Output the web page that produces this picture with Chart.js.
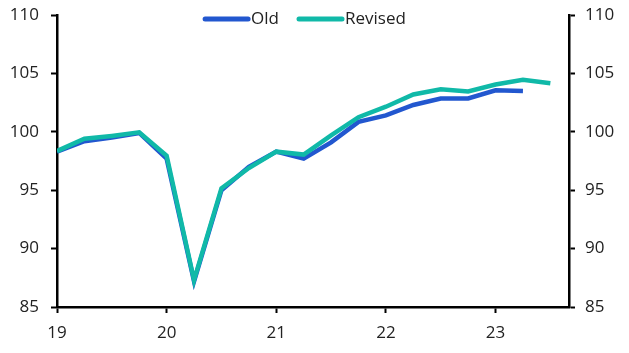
<!DOCTYPE html>
<html>
<head>
<meta charset="utf-8">
<script src="https://cdn.jsdelivr.net/npm/chart.js@4/dist/chart.umd.min.js"></script>
<style>
html,body{margin:0;padding:0;background:#fff;}
#wrap{width:629px;height:353px;position:relative;}
</style>
</head>
<body>
<div id="wrap"><canvas id="c" width="629" height="353"></canvas></div>
<script>
// Data (quarterly index)
const quarters = ['2019Q1','2019Q2','2019Q3','2019Q4','2020Q1','2020Q2','2020Q3','2020Q4',
  '2021Q1','2021Q2','2021Q3','2021Q4','2022Q1','2022Q2','2022Q3','2022Q4','2023Q1','2023Q2','2023Q3'];
const oldSeries = [98.3, 99.2, 99.5, 99.9, 97.7, 87.2, 95.0, 97.0, 98.3, 97.7, 99.1, 100.85, 101.4, 102.3, 102.85, 102.85, 103.55, 103.5];
const revisedSeries = [98.35, 99.4, 99.65, 99.95, 97.95, 87.3, 95.15, 96.9, 98.3, 98.05, 99.7, 101.25, 102.15, 103.2, 103.65, 103.45, 104.05, 104.45, 104.15];
const xTickLabels = ['19','20','21','22','23'];
const seriesNames = ['Old','Revised'];
const seriesColors = ['#2257CF','#10B9A8'];

function qToX(q){ const y = parseInt(q.slice(0,4),10); const n = parseInt(q.slice(5),10); return y + (n-1)/4; }
function pts(vals){ return vals.map((v,i)=>({x:qToX(quarters[i]), y:v})); }

const FONT = '"Open Sans", "Noto Sans", sans-serif';
Chart.defaults.font.family = FONT;
Chart.defaults.font.size = 17;
Chart.defaults.color = '#222';

const legendPlugin = {
  id:'customLegend',
  afterDraw(chart){
    const ctx = chart.ctx;
    ctx.save();
    ctx.font = '17px ' + FONT;
    ctx.textBaseline = 'middle';
    const items = chart.data.datasets.map(d=>({label:d.label,color:d.borderColor}));
    const lineW = 47, gap = 1, sep = 18;
    let total = 0;
    items.forEach((it,i)=>{ total += lineW + gap + ctx.measureText(it.label).width + (i<items.length-1?sep:0); });
    let x = (chart.width - total)/2 - 10;
    const y = 19;
    items.forEach(it=>{
      ctx.strokeStyle = it.color; ctx.lineWidth = 5; ctx.lineCap='round';
      ctx.beginPath(); ctx.moveTo(x+2,y); ctx.lineTo(x+lineW-2,y); ctx.stroke();
      x += lineW + gap;
      ctx.fillStyle = '#222';
      ctx.fillText(it.label, x, y);
      x += ctx.measureText(it.label).width + sep;
    });
    ctx.restore();
  }
};

const yCommon = {
  type:'linear', min:85, max:110,
  ticks:{stepSize:5, color:'#222', font:{size:17}},
  grid:{display:true, drawOnChartArea:false, drawTicks:true, tickLength:6, tickColor:'#000', tickWidth:2},
  border:{display:true, color:'#000', width:2.5}
};
function fixY(w){ return function(a){ a.width = w; a.paddingTop = 0; a.paddingBottom = 0; }; }

new Chart(document.getElementById('c'), {
  type:'line',
  data:{
    datasets:[
      {label:seriesNames[0], data:pts(oldSeries), borderColor:seriesColors[0], backgroundColor:seriesColors[0], borderWidth:4.5, pointRadius:0, tension:0, order:1},
      {label:seriesNames[1], data:pts(revisedSeries), borderColor:seriesColors[1], backgroundColor:seriesColors[1], borderWidth:4.5, pointRadius:0, tension:0, order:0}
    ]
  },
  plugins:[legendPlugin],
  options:{
    responsive:false, animation:false,
    layout:{padding:{top:15, left:0, right:0, bottom:0}},
    plugins:{legend:{display:false}, tooltip:{enabled:false}},
    scales:{
      x:{
        type:'linear', min:2019, max:2023.67,
        afterBuildTicks(axis){ axis.ticks = xTickLabels.map((l,i)=>({value:2019+i})); },
        ticks:{color:'#222', font:{size:17}, padding:10, maxRotation:0,
          callback:(v)=>{ const i = Math.round(v-2019); return xTickLabels[i] ?? ''; }},
        grid:{display:true, drawOnChartArea:false, drawTicks:true, tickLength:6, tickColor:'#000', tickWidth:2},
        border:{display:true, color:'#000', width:2.5},
        afterFit(axis){ axis.height = 46; axis.paddingLeft = 0; axis.paddingRight = 0; }
      },
      y:Object.assign({}, yCommon, {position:'left', ticks:Object.assign({}, yCommon.ticks, {padding:12}), afterFit:fixY(57)}),
      y2:Object.assign({}, yCommon, {position:'right', ticks:Object.assign({}, yCommon.ticks, {padding:10}), afterFit:fixY(60)})
    }
  }
});
</script>
</body>
</html>
